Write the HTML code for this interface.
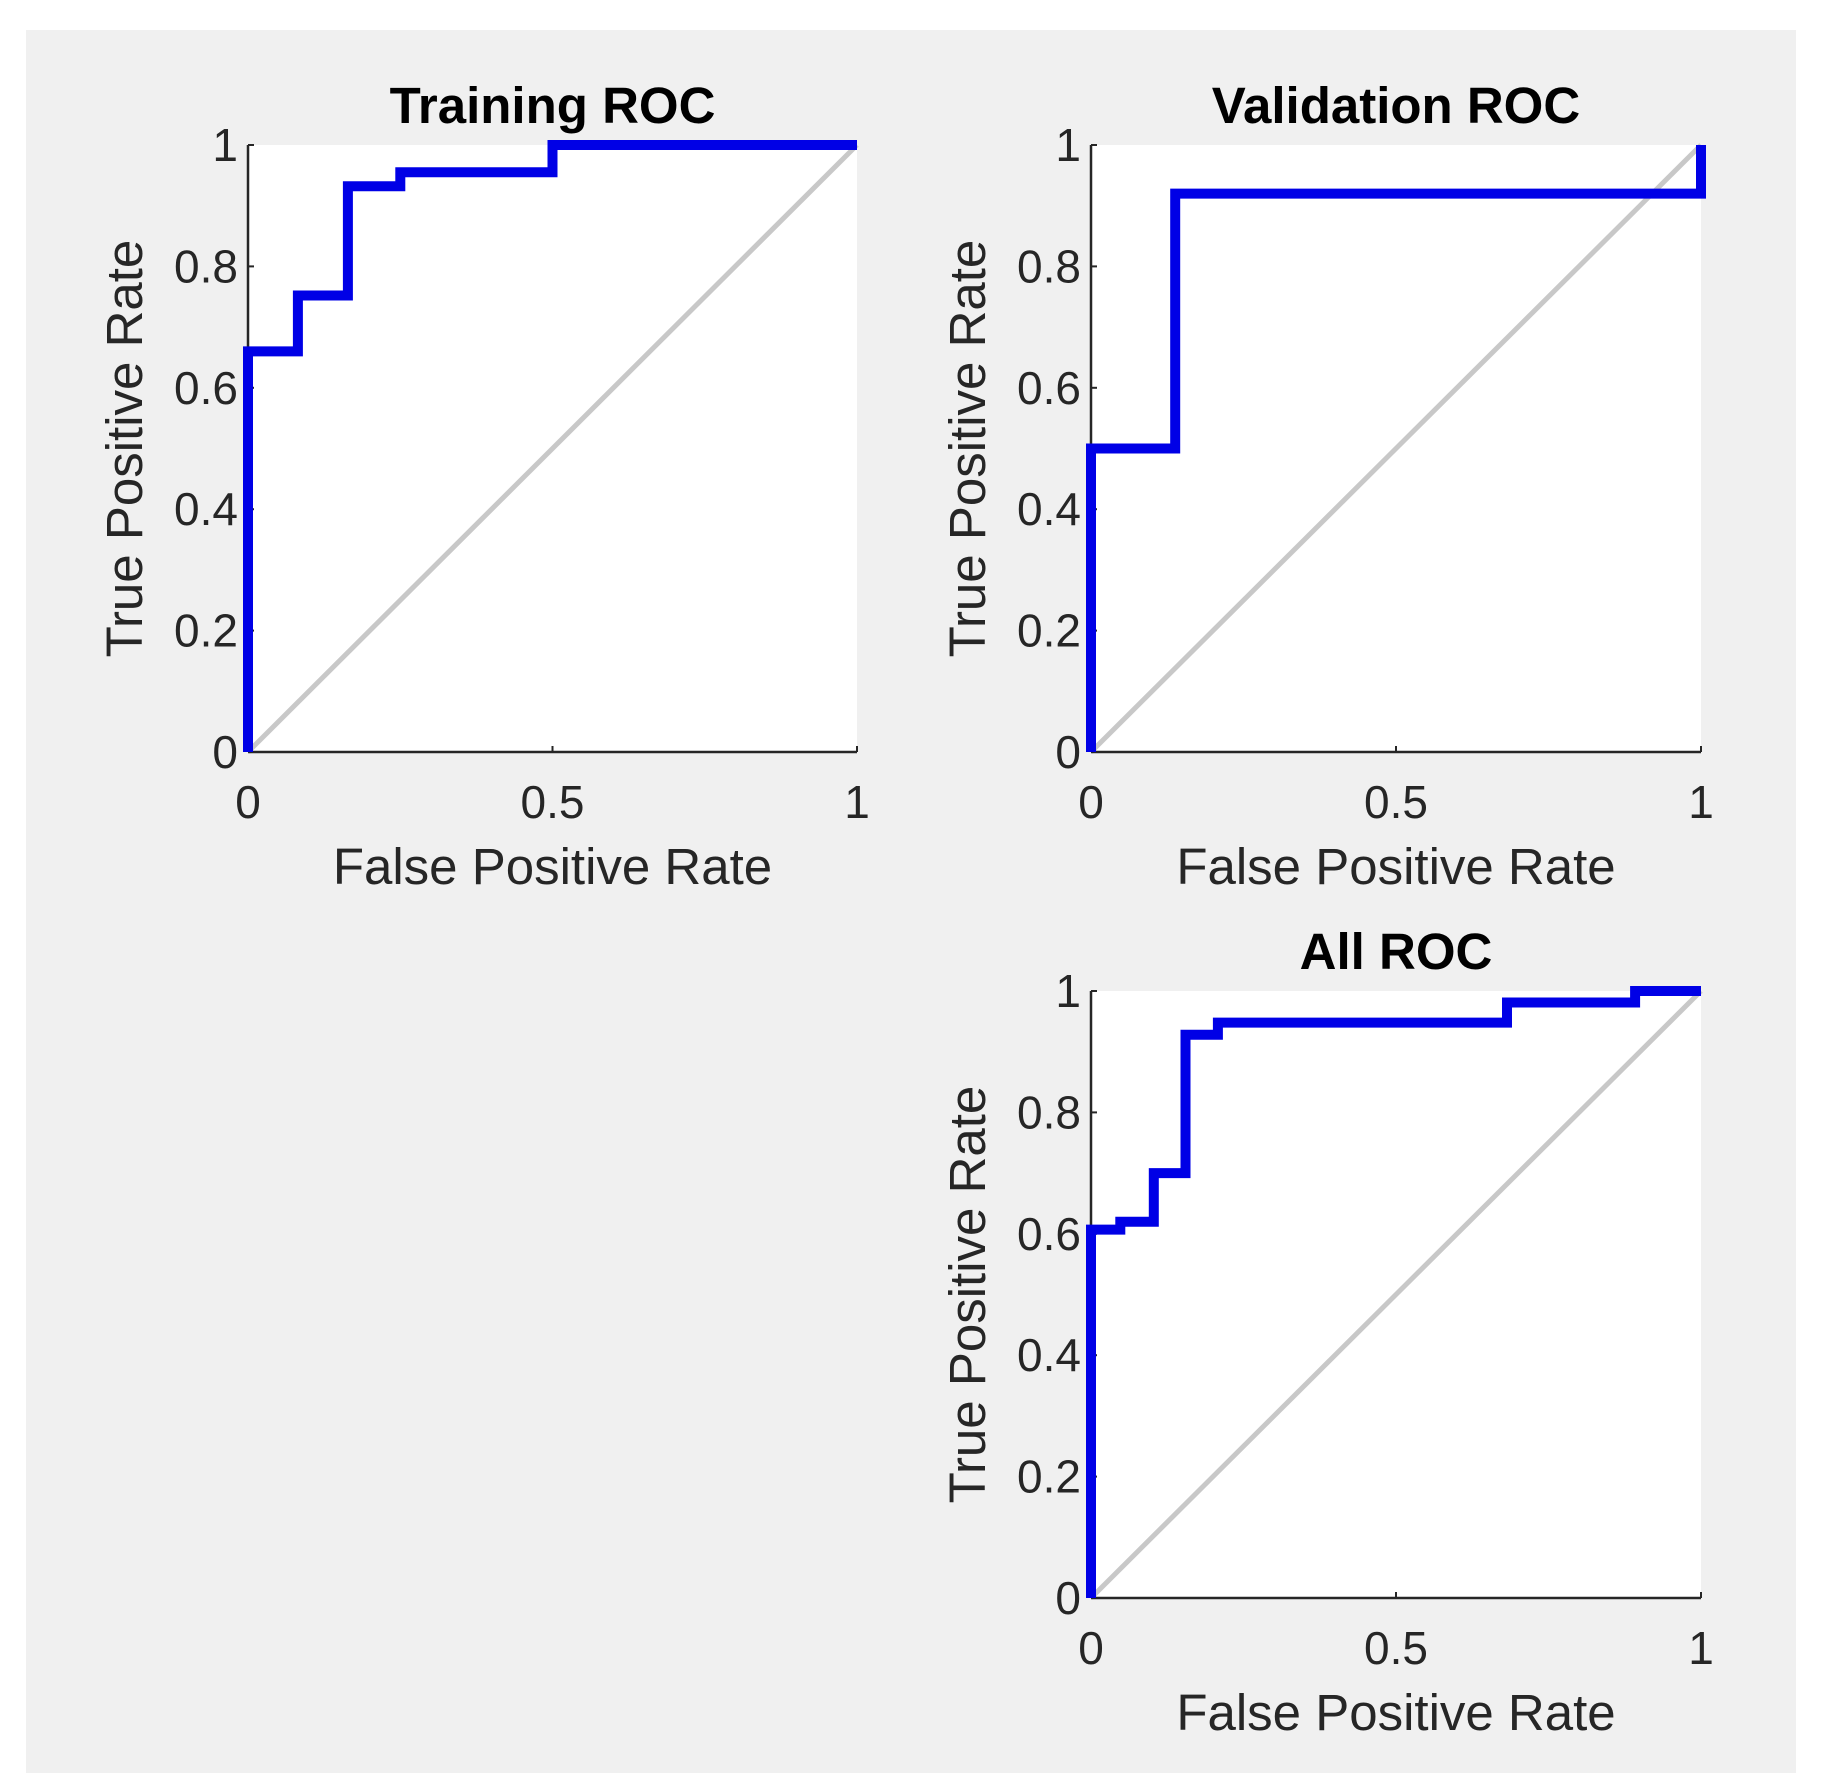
<!DOCTYPE html>
<html><head><meta charset="utf-8"><style>
html,body{margin:0;padding:0;background:#fff;}
svg{display:block;}
</style></head><body>
<svg id="fig" width="1822" height="1792" xmlns="http://www.w3.org/2000/svg">
<rect x="26" y="30" width="1770" height="1743" fill="#f0f0f0"/>
</svg>
<script>
const trainX = [0, 0, 0.082, 0.082, 0.164, 0.164, 0.25, 0.25, 0.5, 0.5, 1];
const trainY = [0, 0.66, 0.66, 0.752, 0.752, 0.932, 0.932, 0.955, 0.955, 1, 1];
const valX = [0, 0, 0.138, 0.138, 1, 1];
const valY = [0, 0.5, 0.5, 0.92, 0.92, 1];
const allX = [0, 0, 0.048, 0.048, 0.103, 0.103, 0.155, 0.155, 0.208, 0.208, 0.682, 0.682, 0.892, 0.892, 1];
const allY = [0, 0.607, 0.607, 0.62, 0.62, 0.70, 0.70, 0.928, 0.928, 0.948, 0.948, 0.981, 0.981, 1, 1];
const yTicks = [0, 0.2, 0.4, 0.6, 0.8, 1];
const yTickLabels = ["0", "0.2", "0.4", "0.6", "0.8", "1"];
const xTicks = [0, 0.5, 1];
const xTickLabels = ["0", "0.5", "1"];

const NS = "http://www.w3.org/2000/svg";
const svg = document.getElementById("fig");
function mk(tag, attrs, parent) {
  const e = document.createElementNS(NS, tag);
  for (const k in attrs) e.setAttribute(k, attrs[k]);
  (parent || svg).appendChild(e);
  return e;
}
const FONT = '"Liberation Sans", Arial, sans-serif';

function panel(id, L, T, W, H, title, xs, ys) {
  const g = mk("g", {});
  
  
  const sx = v => L + v * W;
  const sy = v => T + H - v * H;
  const bg = mk("rect", {x: L, y: T, width: W, height: H, fill: "#fff"}, g);
  
  
  const diag = mk("line", {x1: sx(0), y1: sy(0), x2: sx(1), y2: sy(1), stroke: "#c8c8c8", "stroke-width": 5}, g);
  
  
  const yAx = mk("line", {x1: L, y1: T, x2: L, y2: T + H, stroke: "#262626", "stroke-width": 2.5}, g);
  
  
  const xAx = mk("line", {x1: L, y1: T + H, x2: L + W, y2: T + H, stroke: "#262626", "stroke-width": 2.5}, g);
  
  
  yTicks.forEach((v, i) => {
    mk("line", {x1: L, y1: sy(v), x2: L + 6, y2: sy(v), stroke: "#262626", "stroke-width": 2}, g);
    const t = mk("text", {x: L - 10, y: sy(v) + 16, "text-anchor": "end", "font-family": FONT, "font-size": 46, fill: "#262626"}, g);
    t.textContent = yTickLabels[i];
    
    
  });
  xTicks.forEach((v, i) => {
    mk("line", {x1: sx(v), y1: T + H, x2: sx(v), y2: T + H - 6, stroke: "#262626", "stroke-width": 2}, g);
    const t = mk("text", {x: sx(v), y: T + H + 66, "text-anchor": "middle", "font-family": FONT, "font-size": 46, fill: "#262626"}, g);
    t.textContent = xTickLabels[i];
    
    
  });
  const pts = xs.map((x, i) => sx(x).toFixed(1) + "," + sy(ys[i]).toFixed(1)).join(" ");
  const line = mk("polyline", {points: pts, fill: "none", stroke: "#0000e6", "stroke-width": 10, "stroke-linejoin": "miter"}, g);
  
  
  const tt = mk("text", {x: L + W / 2, y: T - 22, "text-anchor": "middle", "font-family": FONT, "font-size": 51, "font-weight": "bold", fill: "#000"}, g);
  tt.textContent = title;
  
  
  const xl = mk("text", {x: L + W / 2, y: T + H + 132, "text-anchor": "middle", "font-family": FONT, "font-size": 51, fill: "#262626"}, g);
  xl.textContent = "False Positive Rate";
  
  
  const cx = L - 106, cy = T + H / 2;
  const yl = mk("text", {x: cx, y: cy, transform: "rotate(-90 " + cx + " " + cy + ")", "text-anchor": "middle", "font-family": FONT, "font-size": 51, fill: "#262626"}, g);
  yl.textContent = "True Positive Rate";
  
  
}
panel("training", 248, 145, 609, 607, "Training ROC", trainX, trainY);
panel("validation", 1091, 145, 610, 607, "Validation ROC", valX, valY);
panel("all", 1091, 991, 610, 607, "All ROC", allX, allY);
</script>
</body></html>
